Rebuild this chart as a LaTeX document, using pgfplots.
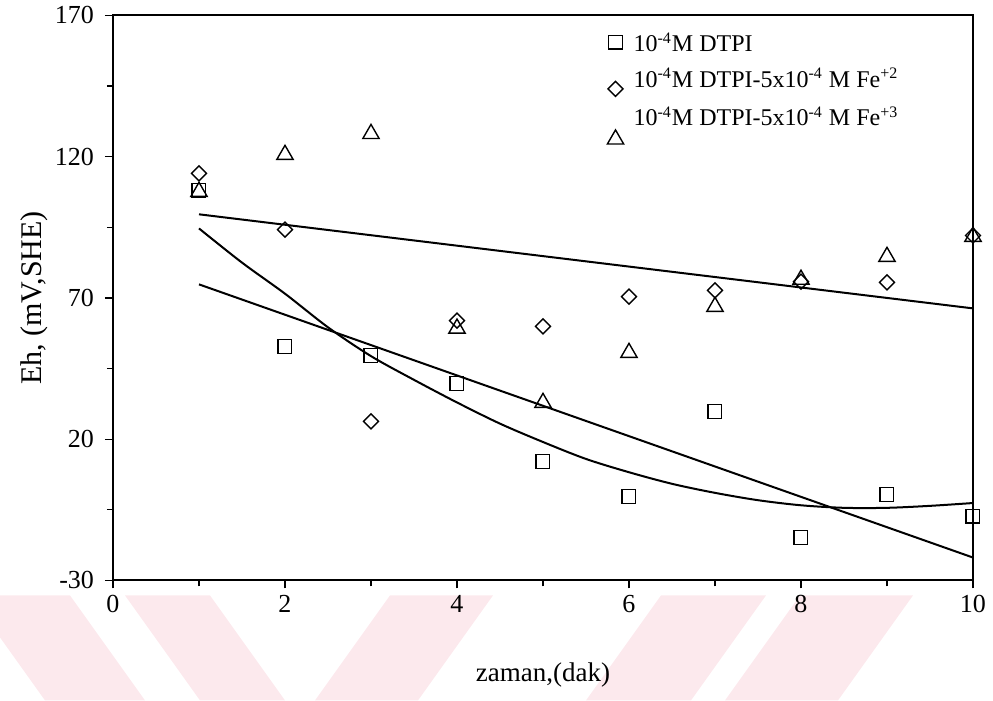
\documentclass[border=0pt]{standalone}
\usepackage{fontspec}
\setmainfont{Liberation Serif}
\usepackage{pgfplots}
\pgfplotsset{compat=1.18}
\definecolor{wm}{RGB}{252,233,237}
\begin{document}
\begin{tikzpicture}
\begin{scope}[x=0.5pt,y=0.5pt]
\useasboundingbox (0,0) rectangle (993,700);
% faint watermark bands (pixel coords, y up)
\fill[wm] (-30,105) -- (70,105) -- (145,0) -- (45,0) -- cycle;
\fill[wm] (125,105) -- (210,105) -- (285,0) -- (200,0) -- cycle;
\fill[wm] (390,105) -- (493,105) -- (418,0) -- (315,0) -- cycle;
\fill[wm] (661,105) -- (766,105) -- (691,0) -- (586,0) -- cycle;
\fill[wm] (800,105) -- (913,105) -- (838,0) -- (725,0) -- cycle;
\end{scope}
\begin{axis}[
  at={(56.5pt,60pt)}, anchor=south west,
  scale only axis, width=430pt, height=282.5pt,
  xmin=0, xmax=10, ymin=-30, ymax=170,
  axis line style={line width=1pt},
  xtick={0,2,...,10}, minor xtick={1,3,...,9},
  ytick={-30,20,70,120,170}, minor ytick={-5,45,95,145},
  yticklabels={-30,20,70,120,170},
  tick align=outside, xtick pos=bottom, ytick pos=left,
  major tick length=4pt, minor tick length=3pt,
  every tick/.style={black, line width=0.6pt},
  tick label style={font=\fontsize{13}{15}\selectfont},
  yticklabel style={xshift=-2pt},
  /pgf/number format/assume math mode=true,
  xlabel={zaman,(dak)}, ylabel={Eh, (mV,SHE)},
  xlabel style={at={(axis description cs:0.5,-0.167)}, anchor=center, font=\fontsize{13.5}{15}\selectfont},
  ylabel style={at={(axis description cs:-0.092,0.5)}, anchor=center, font=\fontsize{15}{17}\selectfont},
  legend style={draw=none, fill=none, at={(axis cs:5.744,164.7)}, anchor=north west,
    font=\fontsize{12}{14}\selectfont, inner sep=0pt, row sep=4.25pt, column sep=4pt,
    nodes={inner sep=1pt, text height=9.5pt, text depth=2pt}},
  legend cell align=left,
  clip=false,
]
\addplot[only marks, mark=square, mark size=3.4pt, mark options={line width=0.7pt, fill=none},
  legend image post style={yshift=1pt}]
  coordinates {(1,108.1) (2,52.8) (3,49.6) (4,39.7) (5,12.1) (6,-0.3) (7,29.8) (8,-14.8) (9,0.4) (10,-7.3)};
\addlegendentry{10\textsuperscript{-4}M DTPI}
\addplot[only marks, mark=square, mark size=2.65pt, mark options={rotate=45, line width=0.7pt, fill=none},
  legend image post style={yshift=-4.5pt}]
  coordinates {(1,114.1) (2,94.2) (3,26.3) (4,62) (5,59.9) (6,70.5) (7,72.7) (8,75.8) (9,75.5) (10,92.1)};
\addlegendentry{10\textsuperscript{-4}M DTPI-5x10\textsuperscript{-4} M Fe\textsuperscript{+2}}
\addplot[only marks, mark=triangle, mark size=4.7pt, mark options={line width=0.7pt, fill=none},
  legend image post style={yshift=-10.5pt}]
  coordinates {(1,107.6) (2,120.7) (3,128.1) (4,59.2) (5,32.9) (6,50.6) (7,66.9) (8,76.5) (9,84.6) (10,91.7)};
\addlegendentry{10\textsuperscript{-4}M DTPI-5x10\textsuperscript{-4} M Fe\textsuperscript{+3}}
% trend lines
\addplot[black, line width=1pt, forget plot] coordinates {(1,99.6) (10,66.3)};
\addplot[black, line width=1pt, forget plot] coordinates {(1,74.8) (10,-21.9)};
\addplot[black, line width=1pt, smooth, forget plot] coordinates {
 (1,94.6) (1.5,82.5) (2,71.5) (2.5,59.6) (3,49.4) (3.5,41.0) (4,33.0) (4.5,25.5) (5,19.0)
 (5.5,13.0) (6,8.3) (6.5,4.2) (7,1.0) (7.5,-1.6) (8,-3.4) (8.5,-4.3) (9,-4.3) (9.5,-3.6) (10,-2.6)};
\end{axis}
\end{tikzpicture}
\end{document}
